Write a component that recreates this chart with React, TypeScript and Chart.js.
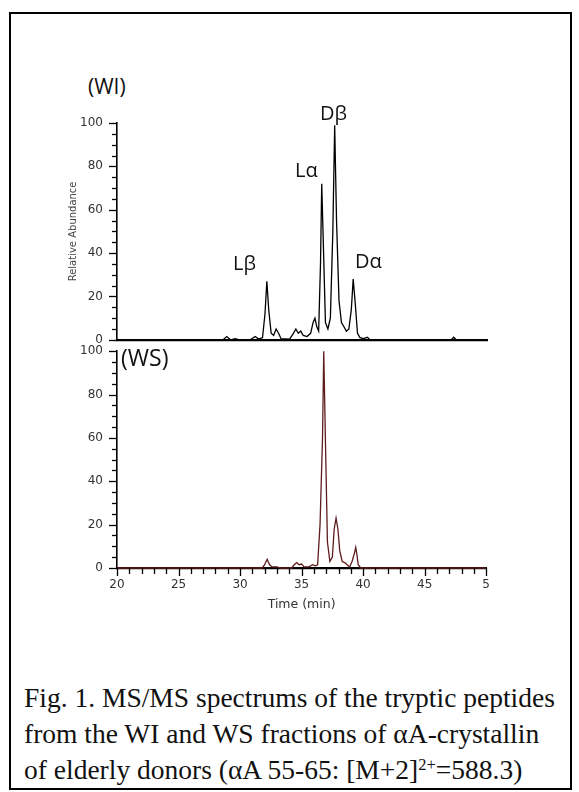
import React, { useEffect, useRef } from "react";
import { Chart, registerables } from "chart.js";

Chart.register(...registerables);

// ---- data ----
const xTickValues = [20, 25, 30, 35, 40, 45, 50];
const xTickLabels = ["20", "25", "30", "35", "40", "45", "5"];
const yTickValues = [0, 20, 40, 60, 80, 100];
const yTickLabels = ["0", "20", "40", "60", "80", "100"];

const wiTime = [20, 28.6, 28.9, 29.2, 29.6, 29.9, 30.8, 31.2, 31.5, 31.8, 32.0, 32.15, 32.3, 32.5, 32.7, 32.9, 33.1, 33.3, 34.0, 34.3, 34.5, 34.7, 34.9, 35.1, 35.4, 35.7, 35.9, 36.05, 36.2, 36.35, 36.5, 36.6, 36.75, 36.9, 37.1, 37.3, 37.5, 37.65, 37.8, 38.0, 38.2, 38.4, 38.6, 38.8, 39.0, 39.15, 39.3, 39.5, 39.7, 40.0, 40.3, 40.5, 47.1, 47.3, 47.5, 50];
const wiAbundance = [0, 0, 1.5, 0, 0.5, 0, 0, 1.5, 0.3, 1, 12, 27, 14, 3, 2, 5, 3, 0.5, 0.3, 3, 5, 3, 4, 2, 1.5, 3, 8, 10, 6, 4, 35, 72, 40, 8, 5, 10, 50, 99, 55, 18, 8, 6, 4, 5, 14, 28, 18, 3, 1, 0.5, 1.2, 0, 0, 1.2, 0, 0];

const wsTime = [20, 31.8, 32.0, 32.2, 32.4, 32.6, 33.0, 33.3, 34.2, 34.4, 34.6, 34.8, 35.0, 35.2, 35.6, 35.9, 36.1, 36.3, 36.5, 36.7, 36.8, 36.95, 37.1, 37.3, 37.5, 37.65, 37.8, 37.95, 38.1, 38.3, 38.5, 38.7, 38.9, 39.1, 39.3, 39.4, 39.5, 39.6, 39.8, 50];
const wsAbundance = [0, 0, 1.5, 4, 1.5, 0.5, 0.5, 0, 0, 1.5, 2.5, 1.5, 1.8, 0.5, 0.5, 1.5, 1, 1.5, 20, 60, 100, 55, 12, 3, 5, 18, 23, 18, 8, 3, 2.5, 1.5, 0.5, 3, 7, 9.5, 6, 1.5, 0, 0];

const tickFont = { family: "DejaVu Sans", size: 12 };

const tickMarks = {
  id: "tickMarks",
  afterDraw(chart: any, _args: any, opts: any) {
    const { ctx } = chart;
    const y = chart.scales.y;
    const x = chart.scales.x;
    ctx.save();
    ctx.strokeStyle = "#000";
    ctx.lineWidth = 1.3;
    for (let v = 0; v <= 100; v += 5) {
      const py = Math.round(y.getPixelForValue(v)) + 0.5;
      const len = v % 20 === 0 ? 8 : 5;
      ctx.beginPath();
      ctx.moveTo(y.right - len, py);
      ctx.lineTo(y.right, py);
      ctx.stroke();
    }
    if (opts && opts.xTicks) {
      for (let v = 20; v <= 50; v += 1) {
        const px = Math.round(x.getPixelForValue(v)) + 0.5;
        const len = v % 5 === 0 ? 8 : 6;
        ctx.beginPath();
        ctx.moveTo(px, x.top);
        ctx.lineTo(px, x.top + len);
        ctx.stroke();
      }
    }
    ctx.restore();
  },
};

function makeConfig(times: number[], vals: number[], color: string, top: boolean): any {
  return {
    type: "line",
    data: {
      datasets: [
        {
          data: times.map((t, i) => ({ x: t, y: vals[i] })),
          borderColor: color,
          borderWidth: 1.3,
          pointRadius: 0,
          tension: 0,
          fill: false,
          clip: false,
        },
      ],
    },
    plugins: [tickMarks],
    options: {
      responsive: false,
      animation: false,
      events: [],
      layout: {
        autoPadding: false,
        padding: top ? { left: 0, right: 13, top: 23, bottom: 0 } : { left: 0, right: 13, top: 17, bottom: 0 },
      },
      plugins: {
        legend: { display: false },
        tooltip: { enabled: false },
        tickMarks: { xTicks: !top },
      },
      scales: {
        x: {
          type: "linear",
          min: 20,
          max: 50,
          afterBuildTicks: (s: any) => {
            s.ticks = xTickValues.map((v) => ({ value: v }));
          },
          afterFit: (s: any) => {
            s.height = top ? 0 : 62;
          },
          grid: { display: false, drawTicks: false },
          border: { display: true, color: "#000", width: 2.2 },
          ticks: {
            display: !top,
            padding: 10,
            color: "#333",
            font: tickFont,
            maxRotation: 0,
            autoSkip: false,
            callback: (v: number) => {
              const i = xTickValues.indexOf(v);
              return i >= 0 ? xTickLabels[i] : "";
            },
          },
          title: {
            display: !top,
            text: "Time (min)",
            color: "#333",
            font: { family: "DejaVu Sans", size: 12.5 },
            padding: { top: 0, bottom: 18 },
          },
        },
        y: {
          type: "linear",
          min: 0,
          max: 100,
          afterBuildTicks: (s: any) => {
            s.ticks = yTickValues.map((v) => ({ value: v }));
          },
          afterFit: (s: any) => {
            s.width = 97;
          },
          grid: { display: false, drawTicks: false },
          border: { display: true, color: "#000", width: 1.6 },
          ticks: {
            padding: 14,
            color: "#333",
            font: tickFont,
            autoSkip: false,
            callback: (v: number) => {
              const i = yTickValues.indexOf(v);
              return i >= 0 ? yTickLabels[i] : "";
            },
          },
          title: {
            display: top,
            text: "Relative Abundance",
            color: "#444",
            font: { family: "DejaVu Sans", size: 10 },
            padding: { top: 47, bottom: 0 },
          },
        },
      },
    },
  };
}

function ChartCanvas(props: { times: number[]; vals: number[]; color: string; top: boolean; left: number; y: number; w: number; h: number }) {
  const ref = useRef<HTMLCanvasElement | null>(null);
  useEffect(() => {
    if (!ref.current) return;
    const chart = new Chart(ref.current, makeConfig(props.times, props.vals, props.color, props.top));
    return () => chart.destroy();
  }, []);
  return (
    <canvas
      ref={ref}
      width={props.w}
      height={props.h}
      style={{ position: "absolute", left: props.left, top: props.y, width: props.w, height: props.h }}
    />
  );
}

const labelStyle: React.CSSProperties = {
  position: "absolute",
  fontFamily: "'Open Sans', sans-serif",
  fontSize: 20,
  color: "#111",
  lineHeight: "24px",
  whiteSpace: "nowrap",
};

const captionStyle: React.CSSProperties = {
  position: "absolute",
  left: 24,
  fontFamily: "'Liberation Serif', 'Times New Roman', serif",
  fontSize: 27.5,
  color: "#111",
  lineHeight: "36px",
  whiteSpace: "nowrap",
};

export default function App() {
  return (
    <div style={{ width: 563, height: 776 }}>
      <div
        style={{
          position: "absolute",
          left: 9,
          top: 12,
          width: 563,
          height: 778,
          border: "2px solid #000",
          boxSizing: "border-box",
        }}
      />
      <ChartCanvas times={wsTime} vals={wsAbundance} color="#5e1c1c" top={false} left={20} y={330} w={480} h={300} />
      <ChartCanvas times={wiTime} vals={wiAbundance} color="#000" top={true} left={20} y={100} w={480} h={261} />
      <div style={{ ...labelStyle, left: 88, top: 74, fontSize: 21 }}>(WI)</div>
      <div style={{ ...labelStyle, left: 121, top: 345, fontSize: 23 }}>(WS)</div>
      <div style={{ ...labelStyle, left: 320, top: 101 }}>Dβ</div>
      <div style={{ ...labelStyle, left: 295, top: 158 }}>Lα</div>
      <div style={{ ...labelStyle, left: 233, top: 251 }}>Lβ</div>
      <div style={{ ...labelStyle, left: 355, top: 249 }}>Dα</div>
      <div style={{ ...captionStyle, top: 680 }}>Fig. 1. MS/MS spectrums of the tryptic peptides</div>
      <div style={{ ...captionStyle, top: 716 }}>from the WI and WS fractions of αA-crystallin</div>
      <div style={{ ...captionStyle, top: 752 }}>
        of elderly donors (αA 55-65: [M+2]
        <sup style={{ fontSize: "0.6em", verticalAlign: "0.55em", lineHeight: 0 }}>2+</sup>=588.3)
      </div>
    </div>
  );
}
